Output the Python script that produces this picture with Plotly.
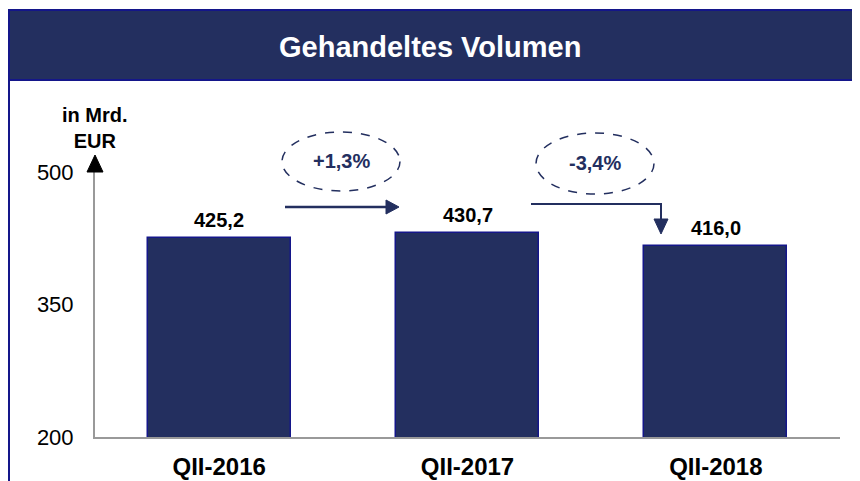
import plotly.graph_objects as go

categories = ['QII-2016', 'QII-2017', 'QII-2018']
volumes = [425.2, 430.7, 416.0]
changes = ['+1,3%', '-3,4%']
y_ticks = [200, 350, 500]

# the page puts the figure 8px in from the window corner, so it is drawn 8px smaller
OFF = 8
W, H = 860 - OFF, 481 - OFF
PLOT_X0, PLOT_X1, PLOT_Y0, PLOT_Y1 = 95, 840, 172, 437   # plot area in window pixels
L, R = PLOT_X0 - OFF, W - (PLOT_X1 - OFF)
T, B = PLOT_Y0 - OFF, H - (PLOT_Y1 - OFF)
NAVY = '#232F5F'
EDGE = '#14168a'
FONT = 'Liberation Sans, Arial, sans-serif'


def px_x(x):
    return (x - PLOT_X0) / (PLOT_X1 - PLOT_X0)


def px_y(y):
    return (PLOT_Y1 - y) / (PLOT_Y1 - PLOT_Y0)


def fmt(v):
    return f"{v:.1f}".replace('.', ',')


fig = go.Figure()
fig.add_trace(go.Bar(
    x=list(range(len(categories))), y=volumes, width=0.576,
    marker=dict(color=NAVY, line=dict(color=EDGE, width=1.5)),
    hoverinfo='skip'))

# value labels above bars
for i, v in enumerate(volumes):
    fig.add_annotation(x=i, y=v, text=f"<b>{fmt(v)}</b>", showarrow=False,
                       xanchor='center', yanchor='bottom', yshift=5,
                       font=dict(size=20, color='black', family=FONT))

shapes = []
# outer frame (runs off the right edge) and header band
shapes.append(dict(type='rect', xref='paper', yref='paper',
                   x0=px_x(9), x1=px_x(875), y0=px_y(490), y1=px_y(10),
                   line=dict(color=EDGE, width=2), fillcolor='rgba(0,0,0,0)', layer='below'))
shapes.append(dict(type='rect', xref='paper', yref='paper',
                   x0=px_x(9), x1=px_x(875), y0=px_y(80), y1=px_y(10),
                   line=dict(color=EDGE, width=2), fillcolor=NAVY, layer='below'))
# y-axis arrow head
shapes.append(dict(type='path', xref='paper', yref='paper',
                   path=f"M {px_x(87)},{px_y(172)} L {px_x(103)},{px_y(172)} L {px_x(95)},{px_y(155)} Z",
                   fillcolor='black', line=dict(color='black', width=1)))

# change arrows: first straight, second elbow
shapes.append(dict(type='line', xref='paper', yref='paper',
                   x0=px_x(285), x1=px_x(388), y0=px_y(207), y1=px_y(207),
                   line=dict(color=NAVY, width=2.5)))
shapes.append(dict(type='path', xref='paper', yref='paper',
                   path=f"M {px_x(386)},{px_y(200)} L {px_x(399)},{px_y(207)} L {px_x(386)},{px_y(214)} Z",
                   fillcolor=NAVY, line=dict(color=NAVY, width=1)))
shapes.append(dict(type='path', xref='paper', yref='paper',
                   path=f"M {px_x(531)},{px_y(204)} L {px_x(661)},{px_y(204)} L {px_x(661)},{px_y(222)}",
                   line=dict(color=NAVY, width=2)))
shapes.append(dict(type='path', xref='paper', yref='paper',
                   path=f"M {px_x(654)},{px_y(219)} L {px_x(668)},{px_y(219)} L {px_x(661)},{px_y(234)} Z",
                   fillcolor=NAVY, line=dict(color=NAVY, width=1)))

# dashed ellipses with growth rates
ellipses = [(282, 400, 132, 191), (536, 654, 133, 194)]
for (x0, x1, y0, y1), txt in zip(ellipses, changes):
    shapes.append(dict(type='circle', xref='paper', yref='paper',
                       x0=px_x(x0), x1=px_x(x1), y0=px_y(y1), y1=px_y(y0),
                       line=dict(color=NAVY, width=1.5, dash='dash')))
    fig.add_annotation(xref='paper', yref='paper', x=px_x((x0 + x1) / 2), y=px_y((y0 + y1) / 2),
                       text=f"<b>{txt}</b>", showarrow=False,
                       xanchor='center', yanchor='middle',
                       font=dict(size=20, color=NAVY, family=FONT))

fig.update_layout(shapes=shapes)

# title and unit label
fig.add_annotation(xref='paper', yref='paper', x=px_x(430), y=px_y(47),
                   text='<b>Gehandeltes Volumen</b>', showarrow=False,
                   xanchor='center', yanchor='middle',
                   font=dict(size=29, color='white', family=FONT))
fig.add_annotation(xref='paper', yref='paper', x=px_x(95), y=px_y(128),
                   text='<b>in Mrd.<br>EUR</b>', showarrow=False,
                   xanchor='center', yanchor='middle',
                   font=dict(size=20, color='black', family=FONT))

fig.update_layout(
    width=W, height=H,
    margin=dict(l=L, r=R, t=T, b=B, pad=0, autoexpand=False),
    plot_bgcolor='white', paper_bgcolor='white',
    showlegend=False,
    font=dict(family=FONT, color='black'),
    bargap=0,
)
fig.update_xaxes(range=[-0.5, 2.5], tickvals=list(range(len(categories))),
                 ticktext=[f"<b>{c}</b>" for c in categories],
                 tickfont=dict(size=24, color='black', family=FONT),
                 showline=True, linecolor='#999999', linewidth=2, showgrid=False,
                 zeroline=False, ticks='', ticklabelstandoff=7, automargin=False,
                 fixedrange=True)
fig.update_yaxes(range=[200, 500], tickvals=y_ticks,
                 tickfont=dict(size=22, color='black', family=FONT),
                 showline=True, linecolor='#999999', linewidth=2, showgrid=False,
                 zeroline=False, ticks='', ticklabelstandoff=15, automargin=False,
                 fixedrange=True)

fig.write_html("out.html")
